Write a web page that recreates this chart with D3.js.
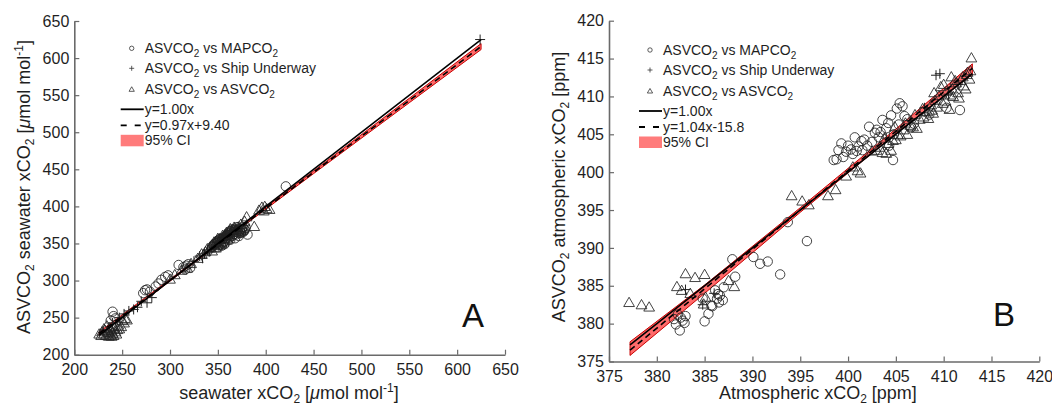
<!DOCTYPE html>
<html><head><meta charset="utf-8">
<script src="https://cdn.jsdelivr.net/npm/d3@7"></script>
<style>
html,body{margin:0;padding:0;background:#fff;}
svg{display:block;font-family:"Liberation Sans",Arial,sans-serif;}
</style></head>
<body>
<svg id="chart" width="1052" height="407"></svg>
<script>
// ---------- Panel A data (seawater) ----------
const aTicks = [200,250,300,350,400,450,500,550,600,650];
const aCircX = [240,241,238,243,272,274,276,279,285,288,291,295,298,309,314,317,319,321,316,354,358,361,364,366,369,371,373,375,377,372,368,363,381,421,356,360,365,370,376,359,350,347,352,378,374,
                344,346,349,351,353,355,357,359,360,362,363,365,366,367,369,370,371,372,373,374,375,376,378,379,367,363,361,357,354,350];
const aCircY = [258,252,246,249,283,287,288,285,292,296,301,305,307,321,318,320,322,317,315,357,360,364,366,362,368,365,369,370,366,360,357,355,362,427,352,358,369,372,372,362,354,350,356,368,364,
                346,349,351,354,349,356,353,357,361,358,362,360,365,363,362,366,369,364,367,365,368,366,369,371,369,367,355,349,347,345];
const aPlusX = [624,276,262,257,266,252,270,281,331,336,339,343,345,348,351,353,346,341,334,325,356,358,362,365,240,247,347,350,355,360,364,368,372,352,357];
const aPlusY = [625,270,261,259,264,255,272,277,333,336,341,342,345,349,347,352,344,339,330,326,355,361,360,363,243,250,351,353,358,363,368,371,373,357,362];
const aTriX = [226,229,232,236,238,240,243,237,241,246,250,253,233,245,234,339,344,348,352,357,362,366,371,374,378,380,388,393,396,399,401,404,398,354,349,239,231,
               342,346,350,355,359,363,367,344,348,352,356,360,337,333,329,322,318,312,305,300,228,231,235,239,242,244,247,249,252,255,236,241];
const aTriY = [228,231,233,230,227,229,231,236,238,240,246,249,226,234,239,343,348,352,355,360,366,368,372,376,380,386,373,395,399,400,397,396,394,350,347,225,235,
               345,352,357,361,365,370,372,340,344,348,352,356,339,336,330,323,317,314,308,302,226,228,232,233,236,228,235,238,243,247,225,226];
const aFitX = [226,625];
const aSlope = 0.97, aIntercept = 9.40;
const aCiX  = [226,300,360,450,550,625];
const aCiLo = [226.4,299.2,357.8,444.2,539.8,611.5];
const aCiHi = [230.8,301.6,359.4,447.6,545.8,619.5];

// ---------- Panel B data (atmospheric) ----------
const bTicks = [375,380,385,390,395,400,405,410,415,420];
const bCircX = [382.4,382.0,382.5,381.8,382.7,382.2,385.0,385.4,385.8,386.1,386.6,386.5,385.7,387.0,386.3,384.8,387.9,388.2,390.1,390.8,391.6,392.9,393.7,395.7,398.5,398.8,399.3,399.8,400.3,400.7,401.1,400.5,401.7,402.2,402.8,403.2,403.6,404.0,404.5,405.1,405.4,405.7,404.7,406.2,406.6,405.9,403.0,402.5,411.7,410.3,408.0,408.5,401.5,399.0,404.3,
                400.0,400.9,401.4,402.0,403.4,404.2,404.8,405.3,406.9,399.5,383.0,382.9,386.9,386.4];
const bCircY = [379.1,379.9,380.8,380.6,380.4,381.2,380.3,381.3,382.3,384.4,383.7,382.8,382.4,384.8,383.3,383.3,388.5,386.2,388.8,387.9,388.2,386.5,393.4,390.9,401.6,401.7,403.8,402.7,403.0,404.6,403.4,402.4,404.3,406.0,405.2,404.6,406.9,405.8,407.5,408.4,409.1,408.7,401.6,407.0,405.9,407.4,405.6,404.0,408.2,408.5,408.0,407.6,402.9,402.9,403.5,
                403.5,402.8,404.1,403.5,405.3,406.5,405.0,406.3,406.4,402.0,381.0,380.1,383.1,383.9];
const bPlusX = [409.6,409.2,383.0,384.8,386.0,404.0,406.5,408.0,410.5,411.5];
const bPlusY = [413.0,412.8,384.5,382.5,384.0,404.5,406.8,408.5,410.3,411.6];
const bTriX = [377.1,378.4,379.2,382.1,382.6,383.0,384.0,385.0,384.9,385.1,383.5,387.5,388.1,394.1,395.2,395.9,397.9,398.7,401.3,400.5,403.3,404.5,404.7,403.8,405.2,405.8,406.5,407.0,407.5,407.8,408.3,408.7,409.1,409.5,409.9,410.3,410.6,410.9,411.2,411.5,411.8,412.1,412.4,412.7,412.9,410.0,410.8,408.9,406.2,404.9,412.5,411.0,409.3,
               402.5,403.6,404.2,405.0,405.5,406.0,406.8,407.2,407.9,408.4,408.8,409.0,409.7,410.2,410.7,411.3,411.6,412.0,412.3,412.8,403.0,404.0,401.0,399.8];
const bTriY = [382.8,382.5,382.2,384.9,384.4,386.6,386.1,386.5,382.6,383.5,384.0,385.7,384.9,396.9,396.2,395.7,396.9,397.7,399.9,400.7,403.3,402.9,404.2,404.5,405.0,405.6,406.2,407.6,407.0,408.4,408.0,408.9,409.5,410.1,409.1,410.7,408.3,411.0,412.1,410.5,412.1,411.4,412.9,412.3,415.1,411.6,412.6,407.8,405.0,406.0,413.2,410.0,408.6,
               402.8,402.6,403.8,404.3,404.8,406.5,406.0,405.8,407.3,407.1,408.2,410.5,411.3,409.4,410.2,411.8,409.8,412.6,411.0,413.4,402.9,402.5,400.2,399.5];
const bFitX = [377.2,413.0];
const bSlope = 1.04, bIntercept = -15.8;
const bCiX  = [377.2,385,395,405,413];
const bCiLo = [375.8,384.0,394.7,405.1,412.9];
const bCiHi = [377.6,385.1,395.3,405.7,414.3];

const svg = d3.select("#chart");
const TXT = "#1f1f1f", AX = "#6a6a6a";

function panel(cfg){
  const g = svg.append("g");
  const x = d3.scaleLinear().domain(cfg.dom).range([cfg.x0, cfg.x1]);
  const y = d3.scaleLinear().domain(cfg.dom).range([cfg.y1, cfg.y0]);

  // CI band
  const band = cfg.ciX.map((v,i)=>({x:v, lo:cfg.ciLo[i], hi:cfg.ciHi[i]}));
  g.append("path").datum(band)
    .attr("d", d3.area().x(d=>x(d.x)).y0(d=>y(d.lo)).y1(d=>y(d.hi)))
    .attr("fill","#ff5a5a").attr("fill-opacity",0.9)
    .attr("stroke","#c80000").attr("stroke-width",1);

  // markers
  const mk = g.append("g").attr("fill","none").attr("stroke","#222").attr("stroke-width",0.85);
  cfg.cx.forEach((v,i)=>{
    mk.append("circle").attr("cx",x(v)).attr("cy",y(cfg.cy[i])).attr("r",4.7);
  });
  const tri = d3.symbol().type(d3.symbolTriangle).size(50);
  cfg.tx.forEach((v,i)=>{
    mk.append("path").attr("d",tri()).attr("transform",`translate(${x(v)},${y(cfg.ty[i])+1})`);
  });
  cfg.px.forEach((v,i)=>{
    const X=x(v), Y=y(cfg.py[i]);
    mk.append("path").attr("d",`M${X-5},${Y}H${X+5}M${X},${Y-5}V${Y+5}`).attr("stroke-width",1);
  });

  // lines
  const line = d3.line().x(d=>x(d[0])).y(d=>y(d[1]));
  g.append("path").datum(cfg.fitX.map(v=>[v,v])).attr("d",line)
    .attr("stroke","#000").attr("stroke-width",1.6).attr("fill","none");
  g.append("path").datum(cfg.fitX.map(v=>[v,cfg.slope*v+cfg.icpt])).attr("d",line)
    .attr("stroke","#000").attr("stroke-width",1.6).attr("fill","none").attr("stroke-dasharray","6,4");

  // axes
  const ax = g.append("g").attr("transform",`translate(0,${cfg.y1})`)
    .call(d3.axisBottom(x).tickValues(cfg.ticks).tickSize(-5).tickSizeOuter(0).tickPadding(9));
  const ay = g.append("g").attr("transform",`translate(${cfg.x0},0)`)
    .call(d3.axisLeft(y).tickValues(cfg.ticks).tickSize(-5).tickSizeOuter(0).tickPadding(5));
  [ax,ay].forEach(a=>{
    a.selectAll(".domain").attr("stroke",AX).attr("stroke-width",1.6);
    a.selectAll(".tick line").attr("stroke",AX).attr("stroke-width",1.2);
    a.selectAll(".tick text").attr("fill",TXT).attr("font-size",16)
      .attr("font-family","Liberation Sans, Arial, sans-serif");
  });

  // legend
  const lg = g.append("g").attr("font-size",14).attr("fill",TXT);
  const lx = cfg.lx, ly = cfg.ly;
  const rows = [ly, ly+20, ly+41];
  lg.append("circle").attr("cx",lx).attr("cy",rows[0]).attr("r",2.2).attr("fill","none").attr("stroke","#333").attr("stroke-width",0.8);
  lg.append("path").attr("d",`M${lx-2.5},${rows[1]}h5M${lx},${rows[1]-2.5}v5`).attr("stroke","#333").attr("stroke-width",0.8);
  lg.append("path").attr("d",d3.symbol().type(d3.symbolTriangle).size(12)()).attr("transform",`translate(${lx},${rows[2]+0.5})`).attr("fill","none").attr("stroke","#333").attr("stroke-width",0.8);
  const names = [["ASVCO","2"," vs MAPCO","2"],["ASVCO","2"," vs Ship Underway",""],["ASVCO","2"," vs ASVCO","2"]];
  names.forEach((n,i)=>{
    const t = lg.append("text").attr("x",lx+13).attr("y",rows[i]+5);
    t.append("tspan").text(n[0]);
    t.append("tspan").attr("font-size",10).attr("dy",4).text(n[1]);
    t.append("tspan").attr("dy",-4).text(n[2]);
    if(n[3]) { t.append("tspan").attr("font-size",10).attr("dy",4).text(n[3]); }
  });
  const sx = lx-11;
  lg.append("path").attr("d",`M${sx},${rows[2]+20}h23`).attr("stroke","#000").attr("stroke-width",1.8);
  lg.append("path").attr("d",`M${sx},${rows[2]+36}h23`).attr("stroke","#000").attr("stroke-width",1.8).attr("stroke-dasharray","6,8");
  lg.append("rect").attr("x",sx).attr("y",rows[2]+45.5).attr("width",23).attr("height",11.5).attr("fill","#ff7b7b");
  lg.append("text").attr("x",sx+24).attr("y",rows[2]+25).text("y=1.00x");
  lg.append("text").attr("x",sx+24).attr("y",rows[2]+41).text(cfg.fitLabel);
  lg.append("text").attr("x",sx+24).attr("y",rows[2]+56).text("95% CI");

  // panel letter
  g.append("text").attr("x",cfg.letterX).attr("y",cfg.letterY).attr("font-size",33).attr("fill","#111").text(cfg.letter);

  // axis titles
  function fill(t, parts){
    parts.forEach(p=>{
      const s = t.append("tspan").text(p.t);
      if(p.sub){ s.attr("font-size",12).attr("dy",4); }
      if(p.back){ s.attr("dy",-4); }
      if(p.sup){ s.attr("font-size",12).attr("dy",-7); }
      if(p.supback){ s.attr("dy",7); }
      if(p.it){ s.attr("font-style","italic"); }
    });
  }
  const xt = g.append("text").attr("x",cfg.xtX).attr("y",399).attr("text-anchor","middle").attr("font-size",18).attr("fill",TXT);
  fill(xt, cfg.xTitle);
  const yt = g.append("text").attr("transform",`translate(${cfg.ytX},${cfg.ytY}) rotate(-90)`)
    .attr("text-anchor","middle").attr("font-size",18).attr("fill",TXT);
  fill(yt, cfg.yTitle);
}

panel({
  dom:[200,650], ticks:aTicks, x0:74.3, x1:505, y0:21, y1:354.7,
  cx:aCircX, cy:aCircY, px:aPlusX, py:aPlusY, tx:aTriX, ty:aTriY,
  fitX:aFitX, slope:aSlope, icpt:aIntercept, ciX:aCiX, ciLo:aCiLo, ciHi:aCiHi,
  lx:131.7, ly:48.3, fitLabel:"y=0.97x+9.40",
  letter:"A", letterX:462, letterY:327,
  xtX:289, ytX:30, ytY:187,
  xTitle:[{t:"seawater xCO"},{t:"2",sub:true},{t:" [",back:true},{t:"μ",it:true},{t:"mol mol"},{t:"-1",sup:true},{t:"]",supback:true}],
  yTitle:[{t:"ASVCO"},{t:"2",sub:true},{t:" seawater xCO",back:true},{t:"2",sub:true},{t:" [",back:true},{t:"μ",it:true},{t:"mol mol"},{t:"-1",sup:true},{t:"]",supback:true}]
});

panel({
  dom:[375,420], ticks:bTicks, x0:609, x1:1039.3, y0:20.7, y1:361.5,
  cx:bCircX, cy:bCircY, px:bPlusX, py:bPlusY, tx:bTriX, ty:bTriY,
  fitX:bFitX, slope:bSlope, icpt:bIntercept, ciX:bCiX, ciLo:bCiLo, ciHi:bCiHi,
  lx:650, ly:50, fitLabel:"y=1.04x-15.8",
  letter:"B", letterX:993, letterY:326,
  xtX:818, ytX:565, ytY:187,
  xTitle:[{t:"Atmospheric xCO"},{t:"2",sub:true},{t:" [ppm]",back:true}],
  yTitle:[{t:"ASVCO"},{t:"2",sub:true},{t:" atmospheric xCO",back:true},{t:"2",sub:true},{t:" [ppm]",back:true}]
});
</script>
</body></html>
